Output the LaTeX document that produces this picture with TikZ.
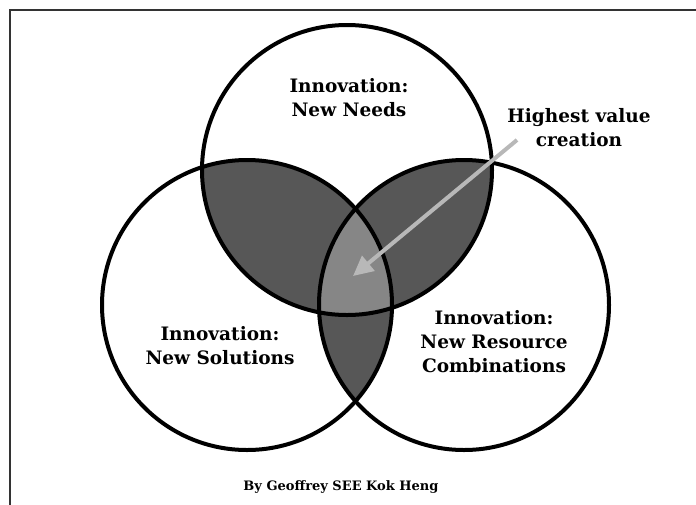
\documentclass[tikz,border=0pt]{standalone}
\usepackage{fontspec}
\setmainfont{DejaVu Serif}
\usetikzlibrary{arrows.meta}

\definecolor{pairgray}{HTML}{575757}
\definecolor{coregray}{HTML}{868686}
\definecolor{arrowgray}{HTML}{B8B8B8}

\begin{document}
\begin{tikzpicture}[
    x=1pt, y=-1pt,
    ring/.style={draw, circle, line width=4pt, minimum size=290pt, inner sep=0pt},
    lbl/.style={align=center, font=\bfseries\fontsize{18.5}{24}\selectfont},
    valarrow/.style={-{Triangle[length=20pt, width=19pt]}, line width=4pt, draw=arrowgray, fill=arrowgray},
]
    \useasboundingbox (0,0) rectangle (696,504);
    \def\rad{145}

    % Circle centres
    \coordinate (needs) at (347,170);
    \coordinate (solutions) at (247,305);
    \coordinate (resources) at (464,305);

    % Pairwise overlaps
    \begin{scope}
        \clip (needs) circle[radius=\rad];
        \fill[pairgray] (solutions) circle[radius=\rad];
        \fill[pairgray] (resources) circle[radius=\rad];
    \end{scope}
    \begin{scope}
        \clip (solutions) circle[radius=\rad];
        \fill[pairgray] (resources) circle[radius=\rad];
    \end{scope}

    % Triple overlap
    \begin{scope}
        \clip (needs) circle[radius=\rad];
        \clip (solutions) circle[radius=\rad];
        \fill[coregray] (resources) circle[radius=\rad];
    \end{scope}

    % Rings
    \node[ring] (needsring) at (needs) {};
    \node[ring] (solring) at (solutions) {};
    \node[ring] (resring) at (resources) {};

    % Frame
    \draw[line width=1.6pt, black!80] (10,10) rectangle (720,530);

    % Labels
    \node[lbl] (needslbl) at (349,98) {Innovation:\\New Needs};
    \node[lbl] (sollbl) at (220,346) {Innovation:\\New Solutions};
    \node[lbl] (reslbl) at (494,342) {Innovation:\\New Resource\\Combinations};
    \node[lbl] (value) at (579,128) {Highest value\\creation};
    \node[font=\bfseries\fontsize{13}{15}\selectfont] (credit) at (341,487) {By Geoffrey SEE Kok Heng};

    % Arrow into the core
    \coordinate (tail) at (517,140);
    \coordinate (core) at (353,276);
    \draw[valarrow] (tail) -- (core);
\end{tikzpicture}
\end{document}
